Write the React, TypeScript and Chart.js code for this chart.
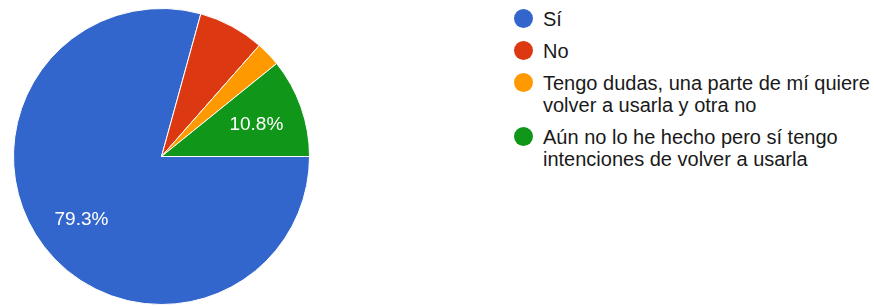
import React, { useEffect, useRef } from "react";
import { Chart, registerables } from "chart.js";

Chart.register(...registerables);

const categories = [
  "Sí",
  "No",
  "Tengo dudas, una parte de mí quiere volver a usarla y otra no",
  "Aún no lo he hecho pero sí tengo intenciones de volver a usarla",
];
const legendLines = [
  ["Sí"],
  ["No"],
  ["Tengo dudas, una parte de mí quiere", "volver a usarla y otra no"],
  ["Aún no lo he hecho pero sí tengo", "intenciones de volver a usarla"],
];
const counts = [88, 8, 3, 12];
const colors = ["#3366cc", "#dc3912", "#ff9900", "#109618"];
const labelThreshold = 10; // percent

const FONT = "'Liberation Sans', Arial, Helvetica, sans-serif";

const sliceLabels = {
  id: "sliceLabels",
  afterDatasetsDraw(chart: any) {
    const ctx = chart.ctx;
    const meta = chart.getDatasetMeta(0);
    const data = chart.data.datasets[0].data as number[];
    const total = data.reduce((a, b) => a + b, 0);
    ctx.save();
    ctx.fillStyle = "#ffffff";
    ctx.font = `19px ${FONT}`;
    ctx.textAlign = "center";
    ctx.textBaseline = "middle";
    meta.data.forEach((arc: any, i: number) => {
      const pct = (data[i] / total) * 100;
      if (pct < labelThreshold) return;
      const mid = (arc.startAngle + arc.endAngle) / 2;
      const d = arc.outerRadius * 0.68;
      const x = arc.x + Math.cos(mid) * d;
      const y = arc.y + Math.sin(mid) * d + 2;
      ctx.fillText(pct.toFixed(1) + "%", x, y);
    });
    ctx.restore();
  },
};

export default function App() {
  const ref = useRef<HTMLCanvasElement | null>(null);

  useEffect(() => {
    if (!ref.current) return;
    const chart = new Chart(ref.current, {
      type: "pie",
      data: {
        labels: categories,
        datasets: [
          {
            data: counts,
            backgroundColor: colors,
            borderColor: "#ffffff",
            borderWidth: 1,
          },
        ],
      },
      options: {
        animation: false,
        responsive: false,
        maintainAspectRatio: false,
        rotation: 90,
        layout: { padding: { left: 13, top: 8, right: 20, bottom: 1 } },
        plugins: {
          legend: { display: false },
          tooltip: { enabled: false },
        },
      },
      plugins: [sliceLabels],
    });
    return () => chart.destroy();
  }, []);

  let top = 8;
  const entries = legendLines.map((lines, i) => {
    const t = top;
    top += lines.length * 22 + 10;
    return (
      <div
        key={i}
        style={{ position: "absolute", left: 514, top: t, display: "flex" }}
      >
        <div
          style={{
            width: 19,
            height: 19,
            borderRadius: "50%",
            background: colors[i],
            marginTop: 1,
            marginRight: 10,
            flex: "none",
          }}
        />
        <div>
          {lines.map((l, j) => (
            <div key={j} style={{ whiteSpace: "nowrap" }}>
              {l}
            </div>
          ))}
        </div>
      </div>
    );
  });

  return (
    <div
      style={{
        position: "fixed",
        left: 0,
        top: 0,
        width: 874,
        height: 306,
        background: "#ffffff",
        fontFamily: FONT,
        fontSize: 20,
        lineHeight: "22px",
        color: "#1a1a1a",
        overflow: "hidden",
      }}
    >
      <canvas
        ref={ref}
        width={330}
        height={306}
        style={{ position: "absolute", left: 0, top: 0 }}
      />
      {entries}
    </div>
  );
}
